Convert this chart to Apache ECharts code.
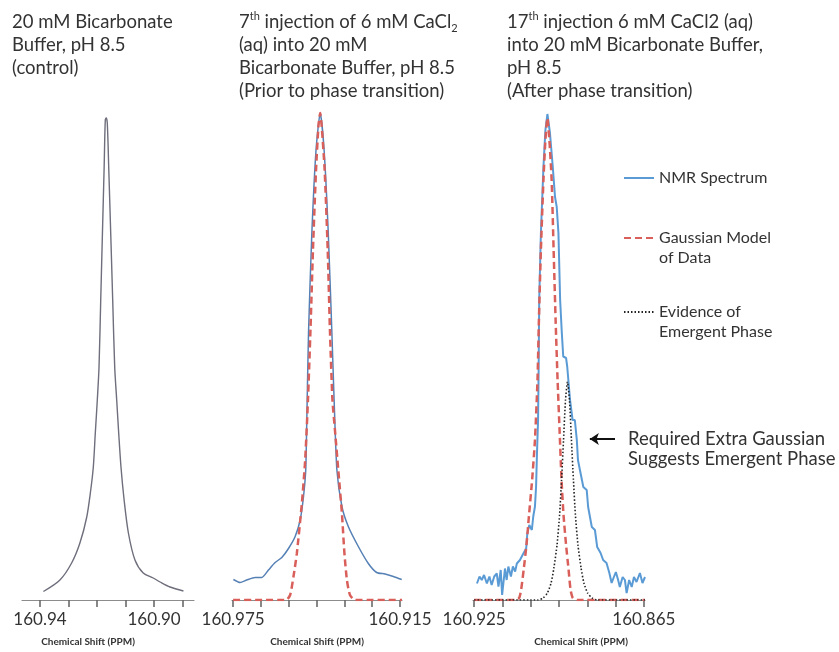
<!DOCTYPE html>
<html>
<head>
<meta charset="utf-8">
<script src="https://cdn.jsdelivr.net/npm/echarts@6/dist/echarts.min.js"></script>
<style>
  html, body { margin: 0; padding: 0; background: #fff; }
  #main { width: 839px; height: 652px; }
</style>
</head>
<body>
<div id="main"></div>
<script>
// panel 1 - control spectrum
var ctrlShift = [160.9388,160.9330,160.9289,160.9260,160.9236,160.9222,160.9213,160.9206,160.9199,160.9193,160.9187,160.9181,160.9175,160.9171,160.9168,160.9164,160.9159,160.9152,160.9145,160.9138,160.9131,160.9124,160.9116,160.9105,160.9090,160.9067,160.9038,160.9003,160.8979,160.8944,160.8897];
var ctrlInt = [0.017,0.040,0.074,0.114,0.166,0.220,0.266,0.334,0.400,0.466,0.600,0.734,0.866,0.960,0.964,0.954,0.866,0.734,0.600,0.466,0.400,0.334,0.266,0.200,0.134,0.080,0.054,0.044,0.036,0.026,0.018];

// panel 2 - 7th injection
var preShift = [160.9749,160.9725,160.9701,160.9671,160.9647,160.9623,160.9599,160.9575,160.9551,160.9527,160.9509,160.9497,160.9489,160.9486,160.9479,160.9467,160.9452,160.9437,160.9423,160.9408,160.9395,160.9387,160.9377,160.9359,160.9336,160.9300,160.9264,160.9234,160.9204,160.9174,160.9144];
var preNmr = [0.041,0.035,0.040,0.045,0.045,0.060,0.075,0.085,0.103,0.127,0.160,0.207,0.260,0.334,0.534,0.734,0.900,0.974,0.900,0.734,0.534,0.400,0.260,0.187,0.147,0.107,0.073,0.055,0.052,0.047,0.041];
var preFitShift = [160.9750,160.9646,160.9560,160.9545,160.9533,160.9521,160.9503,160.9491,160.9481,160.9472,160.9463,160.9452,160.9443,160.9437,160.9432,160.9421,160.9410,160.9402,160.9393,160.9384,160.9372,160.9359,160.9350,160.9341,160.9330,160.9312,160.9143];
var preFit = [0,0,0,0.010,0.047,0.093,0.193,0.280,0.400,0.540,0.700,0.860,0.950,0.974,0.950,0.860,0.700,0.540,0.400,0.340,0.260,0.174,0.094,0.040,0.010,0,0];

// panel 3 - 17th injection
var postShift = [160.9240,160.9231,160.9223,160.9215,160.9205,160.9196,160.9188,160.9179,160.9170,160.9164,160.9156,160.9151,160.9141,160.9135,160.9129,160.9120,160.9113,160.9105,160.9099,160.9088,160.9076,160.9066,160.9062,160.9055,160.9046,160.9041,160.9035,160.9031,160.9028,160.9024,160.9022,160.9020,160.9014,160.9005,160.8998,160.8991,
  160.8982,160.8972,160.8964,160.8958,160.8952,160.8946,160.8940,160.8935,160.8925,160.8921,160.8911,160.8902,160.8894,160.8887,160.8883,160.8876,160.8864,160.8852,160.8847,160.8834,160.8823,160.8815,160.8803,160.8794,160.8782,160.8772,160.8764,160.8756,160.8749,160.8741,160.8735,160.8725,160.8717,160.8711,160.8702,160.8693,160.8685,160.8676,160.8670,160.8664,160.8655,160.8646];
var postNmr = [0.033,0.047,0.040,0.050,0.033,0.047,0.030,0.047,0.053,0.027,0.060,0.010,0.063,0.040,0.067,0.047,0.067,0.057,0.073,0.080,0.093,0.103,0.133,0.150,0.140,0.167,0.187,0.227,0.290,0.360,0.460,0.600,0.734,0.866,0.940,0.972,
  0.934,0.866,0.806,0.786,0.734,0.600,0.534,0.487,0.484,0.467,0.400,0.360,0.360,0.320,0.280,0.260,0.226,0.220,0.186,0.146,0.140,0.106,0.094,0.080,0.074,0.054,0.034,0.046,0.056,0.040,0.026,0.046,0.040,0.014,0.040,0.026,0.046,0.036,0.040,0.054,0.034,0.046];
var postFitShift = [160.9250,160.9105,160.9091,160.9084,160.9075,160.9065,160.9056,160.9045,160.9035,160.9026,160.9021,160.9014,160.9005,160.8998,160.8991,160.8984,160.8976,160.8969,160.8962,160.8955,160.8948,160.8941,160.8934,160.8925,160.8916,160.8909,160.8901,160.8886,160.8646];
var postFit = [0,0,0.004,0.020,0.060,0.110,0.170,0.240,0.320,0.440,0.560,0.700,0.840,0.920,0.964,0.920,0.840,0.700,0.560,0.440,0.340,0.240,0.170,0.110,0.060,0.020,0.004,0,0];
var extraShift = [160.9250,160.9024,160.9006,160.8991,160.8978,160.8968,160.8957,160.8948,160.8941,160.8934,160.8927,160.8920,160.8913,160.8906,160.8899,160.8892,160.8883,160.8872,160.8862,160.8849,160.8833,160.8816,160.8646];
var extraFit = [0,0,0.004,0.014,0.034,0.064,0.110,0.170,0.240,0.320,0.400,0.436,0.400,0.320,0.240,0.170,0.110,0.064,0.034,0.014,0.004,0,0];

// axis ticks and labels
var ticks1 = [160.89,160.90,160.91,160.92,160.93,160.94];
var labels1 = [160.94,160.90];
var ticks2 = [160.915,160.925,160.935,160.945,160.955,160.965,160.975];
var labels2 = [160.975,160.915];
var ticks3 = [160.865,160.875,160.885,160.895,160.905,160.915,160.925];
var labels3 = [160.925,160.865];

function zip(xs, ys){
    var out = [];
    for(var i=0;i<xs.length;i++){
        out.push([xs[i], ys[i]]);
    }
    return out;
}

var FONT = 'Lato';
var TXT = '#333333';
var AXC = '#8c8c8c';

function xAxisFor(idx, min, max, ticks, labels, dec, namePad){
    return {
        type: 'value', gridIndex: idx, inverse: true, min: min, max: max,
        axisLine: {lineStyle: {color: AXC, width: 1.2}},
        axisTick: {show: true, length: 7, customValues: ticks, lineStyle: {color: '#6a6a6a', width: 1.6}},
        splitLine: {show: false},
        axisLabel: {
            customValues: labels, margin: 11, color: TXT, fontFamily: FONT, fontSize: 17,
            formatter: function(v){ return Number(v).toFixed(dec); }
        },
        name: 'Chemical Shift (PPM)', nameLocation: 'middle', nameGap: 37,
        nameTextStyle: {fontFamily: FONT, fontWeight: 'bold', fontSize: 10, color: TXT, padding: namePad}
    };
}
function yAxisFor(idx){
    return {type: 'value', gridIndex: idx, min: 0, max: 1, show: false};
}

var dom = document.getElementById('main');
var myChart = echarts.init(dom);
var blue = '#5b9bd5';
var red = '#d95f5a';

var legendText = {fontFamily: FONT, fontSize: 16, color: TXT, lineHeight: 20};
var option = {
    backgroundColor: '#ffffff',
    animation: false,
    grid: [
        {left: 22, width: 172, top: 100, bottom: 52},
        {left: 232, width: 170, top: 100, bottom: 52},
        {left: 473, width: 172, top: 100, bottom: 52}
    ],
    xAxis: [
        xAxisFor(0, 160.886, 160.9463, ticks1, labels1, 2, [0, 40, 0, 0]),
        xAxisFor(1, 160.9143, 160.9754, ticks2, labels2, 3, [0, 0, 0, 0]),
        xAxisFor(2, 160.8646, 160.9254, ticks3, labels3, 3, [0, 0, 0, 44])
    ],
    yAxis: [yAxisFor(0), yAxisFor(1), yAxisFor(2)],
    legend: [
        {left: 623, top: 168, padding: 0, itemWidth: 30, itemHeight: 14, data: ['NMR Spectrum'],
         itemStyle: {color: 'transparent', borderWidth: 0, opacity: 0}, textStyle: legendText},
        {left: 623, top: 208, padding: 0, itemWidth: 30, itemHeight: 14, data: ['Gaussian Model of Data'],
         itemStyle: {color: 'transparent', borderWidth: 0, opacity: 0},
         formatter: function(){ return ' \nGaussian Model\nof Data'; }, textStyle: legendText},
        {left: 623, top: 282, padding: 0, itemWidth: 30, itemHeight: 14, data: ['Evidence of Emergent Phase'],
         itemStyle: {color: 'transparent', borderWidth: 0, opacity: 0},
         formatter: function(){ return ' \nEvidence of\nEmergent Phase'; }, textStyle: legendText}
    ],
    graphic: [
        {type: 'text', left: 12, top: 11, style: {
            text: '20 mM Bicarbonate\nBuffer, pH 8.5\n(control)',
            fontFamily: FONT, fontSize: 18.5, lineHeight: 23, fill: TXT}},
        {type: 'text', left: 239, top: 11, style: {
            text: '{n|7}{sup|th}{n| injection of 6 mM CaCl}{sub|2}\n(aq) into 20 mM\nBicarbonate Buffer, pH 8.5\n(Prior to phase transition)',
            fontFamily: FONT, fontSize: 18.5, lineHeight: 23, fill: TXT,
            rich: {
                n: {fontFamily: FONT, fontSize: 18.5, lineHeight: 23, fill: TXT},
                sup: {fontFamily: FONT, fontSize: 11, lineHeight: 14, verticalAlign: 'top', fill: TXT},
                sub: {fontFamily: FONT, fontSize: 11, lineHeight: 12, verticalAlign: 'bottom', fill: TXT}
            }}},
        {type: 'text', left: 507, top: 11, style: {
            text: '{n|17}{sup|th}{n| injection 6 mM CaCl2 (aq)}\ninto 20 mM Bicarbonate Buffer,\npH 8.5\n(After phase transition)',
            fontFamily: FONT, fontSize: 18.5, lineHeight: 23, fill: TXT,
            rich: {
                n: {fontFamily: FONT, fontSize: 18.5, lineHeight: 23, fill: TXT},
                sup: {fontFamily: FONT, fontSize: 11, lineHeight: 14, verticalAlign: 'top', fill: TXT}
            }}},
        {type: 'text', left: 628, top: 429, style: {
            text: 'Required Extra Gaussian\nSuggests Emergent Phase',
            fontFamily: FONT, fontSize: 18.5, lineHeight: 20, fill: TXT}}
    ],
    series: [
        {name: 'Control', type: 'line', xAxisIndex: 0, yAxisIndex: 0, symbol: 'none', smooth: 0.3,
         lineStyle: {color: '#6e6e7c', width: 1.4}, data: zip(ctrlShift, ctrlInt)},
        {name: 'NMR Spectrum', type: 'line', xAxisIndex: 2, yAxisIndex: 2, symbol: 'none',
         lineStyle: {color: blue, width: 2}, itemStyle: {color: blue}, data: zip(postShift, postNmr)},
        {name: 'NMR Spectrum', type: 'line', xAxisIndex: 1, yAxisIndex: 1, symbol: 'none', smooth: 0.2,
         lineStyle: {color: '#5580b5', width: 1.5}, itemStyle: {color: '#5580b5'}, data: zip(preShift, preNmr)},
        {name: 'Gaussian Model of Data', type: 'line', xAxisIndex: 1, yAxisIndex: 1, symbol: 'none', smooth: 0.2,
         lineStyle: {color: red, width: 2.5, type: [7, 4]}, itemStyle: {color: red}, data: zip(preFitShift, preFit)},
        {name: 'Gaussian Model of Data', type: 'line', xAxisIndex: 2, yAxisIndex: 2, symbol: 'none', smooth: 0.2,
         lineStyle: {color: red, width: 2.5, type: [7, 4]}, itemStyle: {color: red}, data: zip(postFitShift, postFit)},
        {name: 'Evidence of Emergent Phase', type: 'line', xAxisIndex: 2, yAxisIndex: 2, symbol: 'none', smooth: 0.2,
         lineStyle: {color: '#222222', width: 1.6, type: [1.5, 2]}, itemStyle: {color: '#222222'},
         data: zip(extraShift, extraFit),
         markLine: {
             silent: true, symbol: ['none', 'arrow'], symbolSize: 9,
             label: {show: false},
             lineStyle: {color: '#111111', width: 2, type: 'solid'},
             data: [[{coord: [160.8752, 0.322]}, {coord: [160.8841, 0.322]}]]
         }}
    ]
};
myChart.setOption(option, true);
</script>
</body>
</html>
